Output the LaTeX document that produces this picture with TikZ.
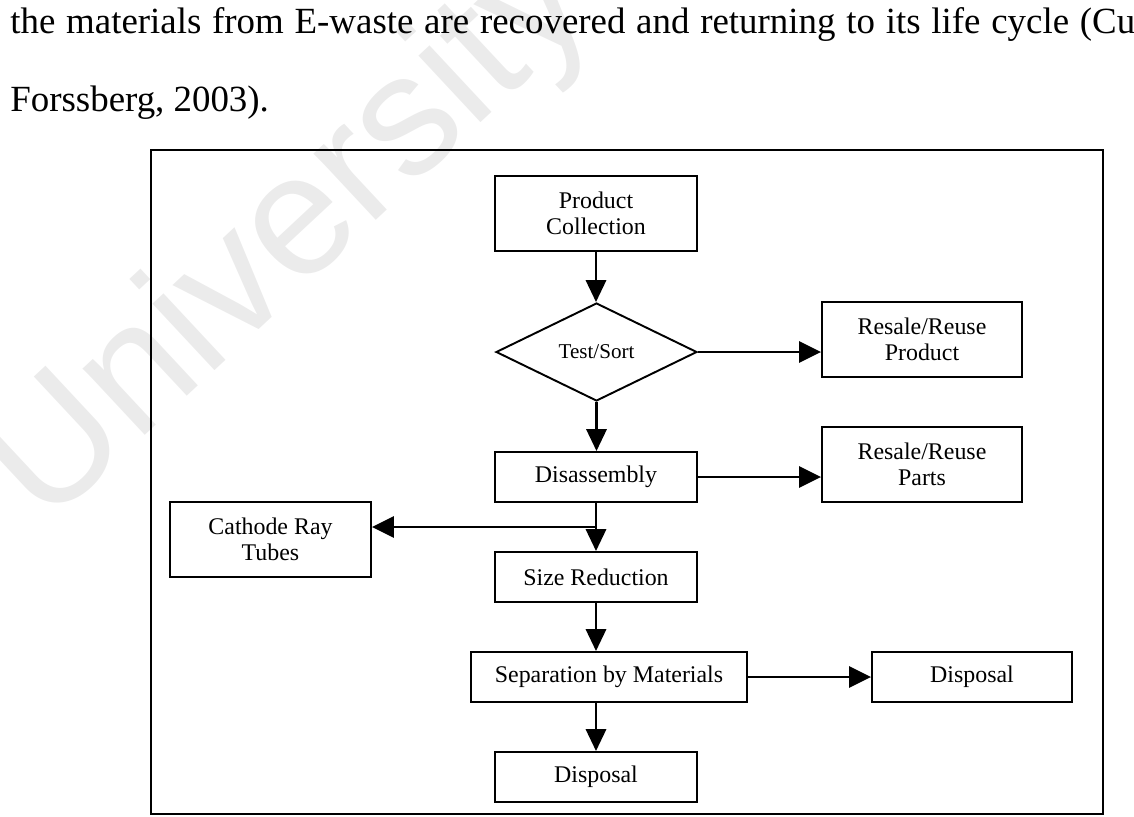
\documentclass[tikz,border=0pt]{standalone}
\usepackage{fontspec}
\setmainfont{Liberation Serif}
\newfontfamily\wmfont{Liberation Sans}
\usetikzlibrary{shapes.geometric,arrows.meta}
\begin{document}
\begin{tikzpicture}[x=0.02cm,y=-0.02cm,
  box/.style={draw=black, line width=1.1pt, inner sep=0pt, align=center,
    font=\fontsize{13.6pt}{14.7pt}\selectfont},
  dia/.style={diamond, aspect=2, draw=black, line width=1.1pt, inner sep=0pt,
    font=\fontsize{12pt}{14pt}\selectfont},
  flow/.style={line width=1.6pt, -{Triangle[length=12.5pt,width=11.5pt]}},
  hflow/.style={line width=1.3pt, -{Triangle[length=12.5pt,width=12pt]}},
  pagetext/.style={anchor=base west, inner sep=0pt, font=\fontsize{21pt}{21pt}\selectfont}
]
\useasboundingbox (0,0) rectangle (1134,816);
\clip (0,0) rectangle (1134,816);
% watermark
\node[rotate=43, text=black!8, font=\wmfont\fontsize{98pt}{98pt}\selectfont] (wm) at (292,238) {University};
% page text
\node[pagetext] (l1) at (10,33) {\makebox[22.5cm][s]{the materials from E-waste are recovered and returning to its life cycle (Cu}};
\node[pagetext] (l2) at (10,111) {Forssberg, 2003).};
% frame
\draw[line width=1.4pt] (151,150) rectangle (1103,814);
% nodes
\node[box, minimum width=4.04cm, minimum height=1.5cm] (pc) at (596,213.5) {Product\\Collection};
\node[dia, minimum width=4.02cm, minimum height=1.96cm] (ts) at (596.5,352) {Test/Sort};
\node[box, minimum width=4cm, minimum height=1.5cm] (rp) at (922,339.5) {Resale/Reuse\\Product};
\node[box, minimum width=4.04cm, minimum height=1cm] (dis) at (596,477) {Disassembly};
\node[box, minimum width=4cm, minimum height=1.5cm] (rparts) at (922,464.5) {Resale/Reuse\\Parts};
\node[box, minimum width=4.02cm, minimum height=1.5cm] (crt) at (270.5,539.5) {Cathode Ray\\Tubes};
\node[box, minimum width=4.04cm, minimum height=1cm] (sr) at (596,577) {Size Reduction};
\node[box, minimum width=5.52cm, minimum height=1cm] (sep) at (609,677) {Separation by Materials};
\node[box, minimum width=4cm, minimum height=1cm] (d1) at (972,677) {Disposal};
\node[box, minimum width=4.04cm, minimum height=1cm] (d2) at (596,777) {Disposal};
\coordinate (j) at (596,527);
% connectors
\draw[flow] (pc.south) -- (pc.south |- ts.north);
\draw[hflow] (ts.east) -- (ts.east -| rp.west);
\draw[flow] (ts.south) -- (ts.south |- dis.north);
\draw[hflow] (dis.east) -- (dis.east -| rparts.west);
\draw[flow] (dis.south) -- (sr.north);
\draw[hflow] (j) -- (j -| crt.east);
\draw[flow] (sr.south) -- (sr.south |- sep.north);
\draw[hflow] (sep.east) -- (sep.east -| d1.west);
\draw[flow] (sep.south -| d2.north) -- (d2.north);
\end{tikzpicture}
\end{document}
